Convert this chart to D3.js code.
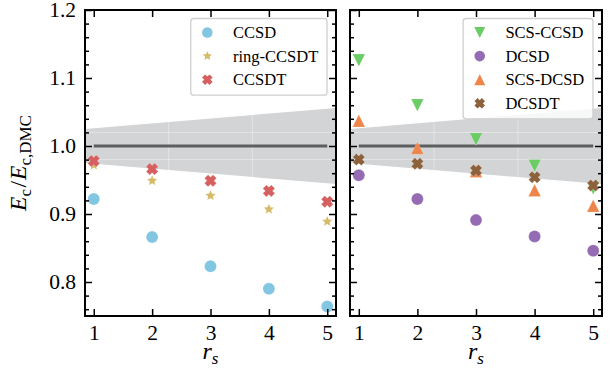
<!DOCTYPE html>
<html>
<head>
<meta charset="utf-8">
<script src="https://cdn.jsdelivr.net/npm/d3@7"></script>
<style>
  body { margin: 0; background: #fff; }
  svg { display: block; font-family: 'Liberation Serif', 'Times New Roman', serif; }
</style>
</head>
<body>
<script>
// Data
const rs = [1, 2, 3, 4, 5]

// left panel
const ccsd = [0.922, 0.866, 0.823, 0.790, 0.764]
const ringCcsdt = [0.972, 0.949, 0.927, 0.907, 0.889]
const ccsdt = [0.978, 0.966, 0.949, 0.934, 0.918]

// right panel
const scsCcsd = [1.126, 1.060, 1.010, 0.971, 0.938]
const dcsd = [0.957, 0.922, 0.891, 0.867, 0.846]
const scsDcsd = [1.037, 0.997, 0.963, 0.935, 0.912]
const dcsdt = [0.980, 0.974, 0.964, 0.954, 0.942]

// DMC error band (relative half width)
const bandRs = [0.85, 5.15]
const bandErr = [0.025, 0.056]

const xTicks = [1, 2, 3, 4, 5]
const yTicks = [0.8, 0.9, 1.0, 1.1, 1.2]

const panels = [
  {
    showYLabels: true,
    series: [
      { name: 'CCSD', values: ccsd, color: '#82c6e2', marker: 'circle' },
      { name: 'ring-CCSDT', values: ringCcsdt, color: '#d5bb67', marker: 'star' },
      { name: 'CCSDT', values: ccsdt, color: '#d65f5f', marker: 'x' }
    ]
  },
  {
    showYLabels: false,
    series: [
      { name: 'SCS-CCSD', values: scsCcsd, color: '#6acc64', marker: 'triDown' },
      { name: 'DCSD', values: dcsd, color: '#956cb4', marker: 'circle' },
      { name: 'SCS-DCSD', values: scsDcsd, color: '#ee854a', marker: 'triUp' },
      { name: 'DCSDT', values: dcsdt, color: '#8c613c', marker: 'x' }
    ]
  }
]

// Marker shapes, s = full size in px
function markerPath(type, s) {
  const h = s / 2
  if (type === 'circle') {
    return d3.symbol(d3.symbolCircle, Math.PI * h * h)()
  } else if (type === 'triUp') {
    return `M0,${-h}L${h},${h}L${-h},${h}Z`
  } else if (type === 'triDown') {
    return `M0,${h}L${h},${-h}L${-h},${-h}Z`
  } else if (type === 'star') {
    const pts = []
    for (let i = 0; i < 10; i++) {
      const r = i % 2 === 0 ? h : h * 0.47
      const a = -Math.PI / 2 + i * Math.PI / 5
      pts.push([r * Math.cos(a), r * Math.sin(a)])
    }
    return 'M' + pts.map(p => p.join(',')).join('L') + 'Z'
  } else {
    // filled "X": a plus sign turned by 45 degrees
    const a = s * 0.46
    const b = a * 0.42
    const cross = [[b, -a], [b, -b], [a, -b], [a, b], [b, b], [b, a],
      [-b, a], [-b, b], [-a, b], [-a, -b], [-b, -b], [-b, -a]]
    const c = Math.SQRT1_2
    const pts = cross.map(([x, y]) => [c * x - c * y, c * x + c * y])
    return 'M' + pts.map(p => p.join(',')).join('L') + 'Z'
  }
}

const markerSize = { circle: 12, triUp: 12.5, triDown: 12.5, star: 11, x: 13 }

const width = 613
const height = 372
const plotTop = 10
const plotBottom = 316
const panelX = [[85, 336], [350, 602]]

const svg = d3.select('body')
  .append('svg')
  .attr('width', width)
  .attr('height', height)

const yScale = d3.scaleLinear()
  .domain([0.75, 1.2])
  .range([plotBottom, plotTop])

const yMinor = d3.range(0.76, 1.2, 0.02).filter(v => Math.abs(Math.round(v * 10) - v * 10) > 1e-6)

panels.forEach((panel, pi) => {
  const [x0, x1] = panelX[pi]
  const xScale = d3.scaleLinear()
    .domain([0.85, 5.15])
    .range([x0, x1])

  const g = svg.append('g')

  svg.append('clipPath')
    .attr('id', `clip${pi}`)
    .append('rect')
    .attr('x', x0)
    .attr('y', plotTop)
    .attr('width', x1 - x0)
    .attr('height', plotBottom - plotTop)

  // DMC band
  const band = bandRs.map((r, i) => ({ r, e: bandErr[i] }))
  g.append('path')
    .datum(band)
    .attr('clip-path', `url(#clip${pi})`)
    .attr('fill', '#d3d4d6')
    .attr('d', d3.area()
      .x(d => xScale(d.r))
      .y0(d => yScale(1 - d.e))
      .y1(d => yScale(1 + d.e)))

  // faint grid (only shows on the band)
  const grid = g.append('g')
    .attr('stroke', '#fff')
    .attr('stroke-opacity', 0.4)
    .attr('stroke-width', 1)
  grid.selectAll('.gy')
    .data([0.98, 1.02])
    .enter()
    .append('line')
    .attr('x1', x0)
    .attr('x2', x1)
    .attr('y1', d => yScale(d))
    .attr('y2', d => yScale(d))
  grid.selectAll('.gx')
    .data([1 / 3, 2 / 3])
    .enter()
    .append('line')
    .attr('x1', d => x0 + d * (x1 - x0))
    .attr('x2', d => x0 + d * (x1 - x0))
    .attr('y1', plotTop)
    .attr('y2', plotBottom)

  // reference line at 1
  g.append('line')
    .attr('x1', xScale(rs[0]))
    .attr('x2', xScale(rs[rs.length - 1]))
    .attr('y1', yScale(1))
    .attr('y2', yScale(1))
    .attr('stroke', '#5e5e5e')
    .attr('stroke-width', 2.8)

  // Add markers
  panel.series.forEach(s => {
    g.selectAll(null)
      .data(rs.map((r, i) => ({ r, v: s.values[i] })))
      .enter()
      .append('path')
      .attr('d', markerPath(s.marker, markerSize[s.marker]))
      .attr('transform', d => `translate(${xScale(d.r)},${yScale(d.v)})`)
      .attr('fill', s.color)
      .attr('stroke', '#fff')
      .attr('stroke-width', 0.4)
      .attr('stroke-opacity', 0.5)
  })

  // Legend
  const legend = g.append('g')
  const rowGap = 23.6
  const legendTop = 18.5
  const box = legend.append('rect')
  const texts = legend.selectAll('text')
    .data(panel.series)
    .enter()
    .append('text')
    .attr('y', (d, i) => legendTop + 14 + i * rowGap)
    .attr('dy', '0.35em')
    .attr('font-size', 16.5)
    .attr('fill', '#000')
    .text(d => d.name)
  const maxW = d3.max(texts.nodes(), n => n.getComputedTextLength())
  const boxRight = x1 - 9
  const boxLeft = boxRight - (maxW + 51)
  texts.attr('x', boxLeft + 42.3)
  legend.selectAll('path')
    .data(panel.series)
    .enter()
    .append('path')
    .attr('d', d => markerPath(d.marker, markerSize[d.marker] * 0.88))
    .attr('transform', (d, i) => `translate(${boxLeft + 16.6},${legendTop + 14 + i * rowGap})`)
    .attr('fill', d => d.color)
  box.attr('x', boxLeft)
    .attr('y', legendTop)
    .attr('width', boxRight - boxLeft)
    .attr('height', 14 + (panel.series.length - 1) * rowGap + 15.5)
    .attr('rx', 3)
    .attr('fill', '#fff')
    .attr('fill-opacity', 0.8)
    .attr('stroke', '#d0d0d0')
    .attr('stroke-width', 1.3)

  // Add X and Y axis (ticks inward on all sides)
  g.append('g')
    .attr('transform', `translate(0,${plotBottom})`)
    .call(d3.axisBottom(xScale).tickValues(xTicks).tickSize(-7).tickPadding(9).tickFormat(d3.format('d')))
  g.append('g')
    .attr('transform', `translate(0,${plotTop})`)
    .call(d3.axisTop(xScale).tickValues(xTicks).tickSize(-7).tickFormat(''))

  g.append('g')
    .attr('transform', `translate(${x0},0)`)
    .call(d3.axisLeft(yScale).tickValues(yTicks).tickSize(-7).tickPadding(9)
      .tickFormat(panel.showYLabels ? d3.format('.1f') : ''))
  g.append('g')
    .attr('transform', `translate(${x0},0)`)
    .call(d3.axisLeft(yScale).tickValues(yMinor).tickSize(-4).tickFormat(''))
  g.append('g')
    .attr('transform', `translate(${x1},0)`)
    .call(d3.axisRight(yScale).tickValues(yTicks).tickSize(-7).tickFormat(''))
  g.append('g')
    .attr('transform', `translate(${x1},0)`)
    .call(d3.axisRight(yScale).tickValues(yMinor).tickSize(-4).tickFormat(''))

  g.selectAll('.domain').remove()
  g.selectAll('.tick line')
    .attr('stroke', '#000')
    .attr('stroke-width', 1.5)
  g.selectAll('.tick text')
    .attr('font-family', "'Liberation Serif', 'Times New Roman', serif")
    .attr('font-size', 21.5)
    .attr('fill', '#000')

  // frame
  g.append('rect')
    .attr('x', x0)
    .attr('y', plotTop)
    .attr('width', x1 - x0)
    .attr('height', plotBottom - plotTop)
    .attr('fill', 'none')
    .attr('stroke', '#000')
    .attr('stroke-width', 2)

  // x label
  const xl = g.append('text')
    .attr('x', (x0 + x1) / 2)
    .attr('y', 359)
    .attr('text-anchor', 'middle')
    .attr('font-size', 24)
    .attr('fill', '#000')
  xl.append('tspan').attr('font-style', 'italic').text('r')
  xl.append('tspan').attr('font-style', 'italic').attr('font-size', 17).attr('dy', 5).text('s')
})

// y label
const yl = svg.append('text')
  .attr('transform', `translate(26,${(plotTop + plotBottom) / 2}) rotate(-90)`)
  .attr('text-anchor', 'middle')
  .attr('font-size', 23.5)
  .attr('fill', '#000')
yl.append('tspan').attr('font-style', 'italic').text('E')
yl.append('tspan').attr('font-size', 17).attr('dy', 5).text('c')
yl.append('tspan').attr('dy', -5).attr('dx', 1.5).text('/')
yl.append('tspan').attr('font-style', 'italic').attr('dx', 1).text('E')
yl.append('tspan').attr('font-size', 17).attr('dy', 5).text('c,DMC')
</script>
</body>
</html>
